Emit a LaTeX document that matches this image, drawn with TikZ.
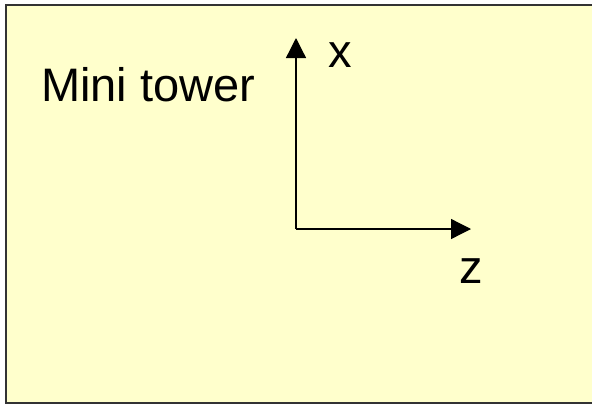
\documentclass[tikz,border=0pt]{standalone}
\usepackage{fontspec}
\setmainfont{Liberation Sans}
\usetikzlibrary{arrows.meta}
\definecolor{PaleYellow}{RGB}{255,255,204}

\begin{document}
\begin{tikzpicture}[x=1pt, y=-1pt,
		axis/.style={line width=1.3pt, -{Triangle[length=20pt, width=20pt]}},
		lbl/.style={font=\fontsize{47}{50}\selectfont, inner sep=0pt}]
		\useasboundingbox (0,0) rectangle (592,405);
		\filldraw[fill=PaleYellow, draw=black!80, line width=1.6pt] (6,5) rectangle (594,403);
		\coordinate (O) at (296,229);
		\coordinate (X) at (296,38);
		\coordinate (Z) at (471,229);
		\draw[axis] (O)--(X);
		\draw[axis] (O)--(Z);
		\node[lbl, anchor=base west] (title) at (41,101) {Mini tower};
		\node[lbl] (xlabel) at (340,55) {x};
		\node[lbl] (zlabel) at (471,271) {z};
	\end{tikzpicture}
\end{document}
